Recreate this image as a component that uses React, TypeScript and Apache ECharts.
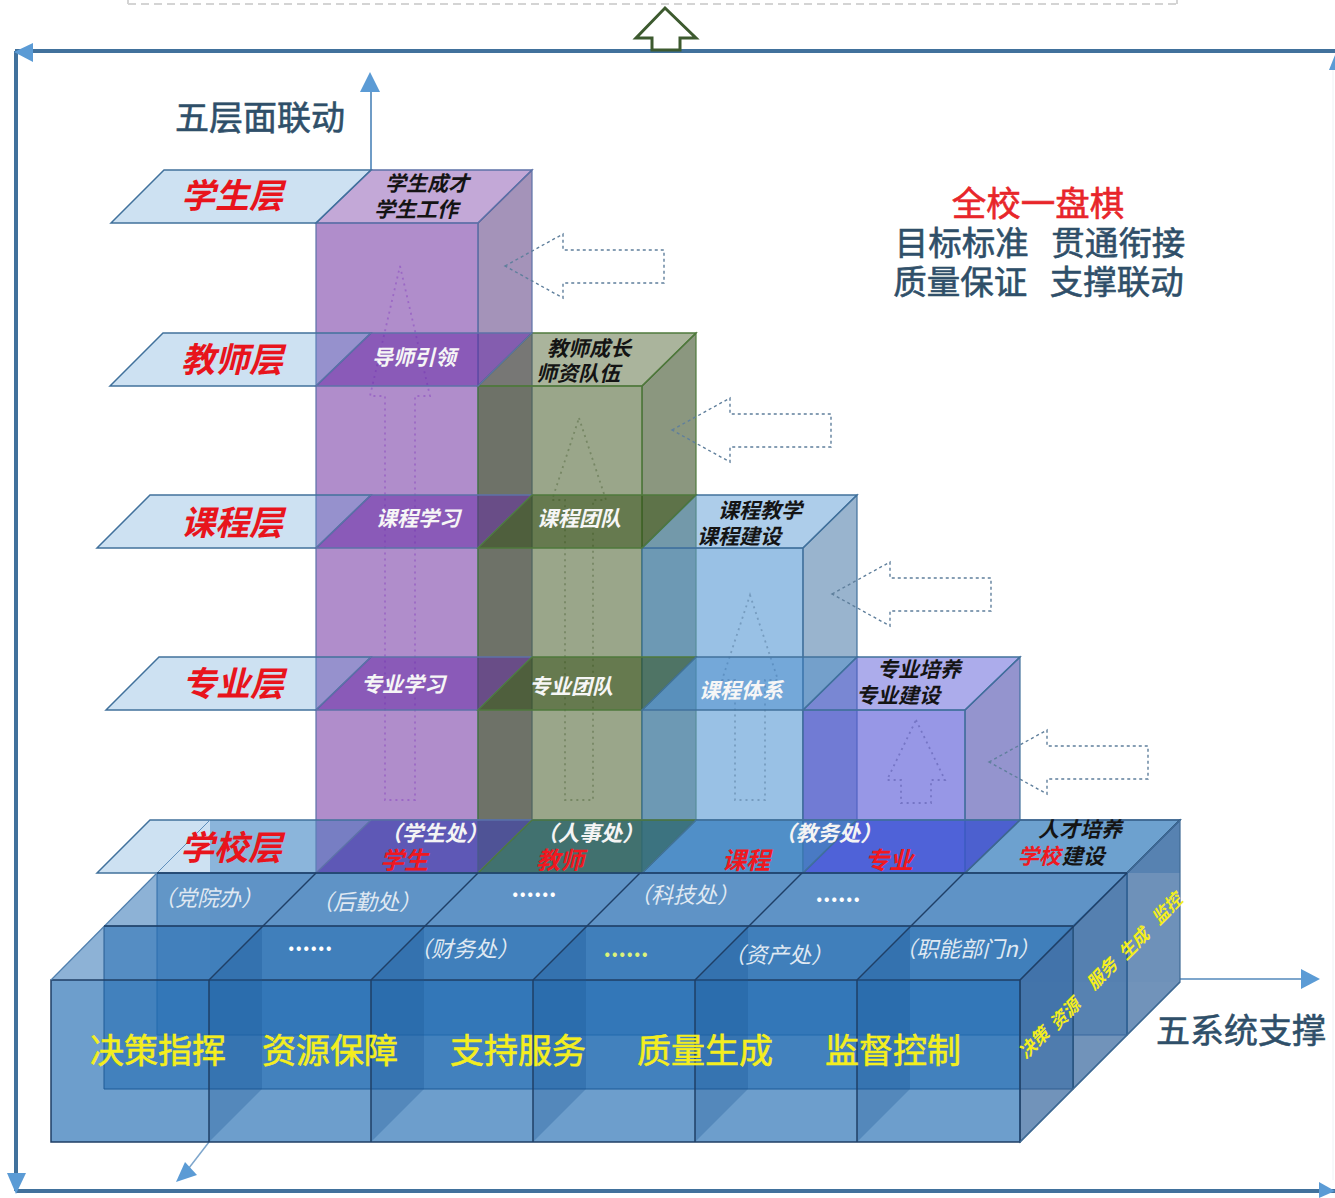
import React, { useEffect, useRef } from "react";
import * as echarts from "echarts";

// ---- content ----
const layerNames = ["学生层", "教师层", "课程层", "专业层", "学校层"];
const axisTitleY = "五层面联动";
const axisTitleX = "五系统支撑";
const sloganHead = "全校一盘棋";
const sloganLines = ["目标标准   贯通衔接", "质量保证   支撑联动"];
const boxTopLines = [
  ["学生成才", "学生工作"],
  ["教师成长", "师资队伍"],
  ["课程教学", "课程建设"],
  ["专业培养", "专业建设"],
];
const crossLabels = ["导师引领", "课程学习", "专业学习", "课程团队", "专业团队", "课程体系"];
const officeTop = ["（学生处）", "（人事处）", "（教务处）"];
const schoolRed = ["学生", "教师", "课程", "专业"];
const schoolTop = "人才培养";
const schoolBuild = ["学校", "建设"];
const deptLabels = ["（党院办）", "（后勤处）", "......", "（科技处）", "......", "......", "（财务处）", "......", "（资产处）", "（职能部门n）"];
const systems = ["决策指挥", "资源保障", "支持服务", "质量生成", "监督控制"];
const sideSystems = ["决策", "资源", "服务", "生成", "监控"];

// ---- layout ----
const FONT = '"Noto Sans CJK SC"';
const colX = [316, 478, 642, 803, 965];
const rearX = [371, 532, 696, 857, 1020];
const rearY = [170, 333, 495, 657, 820];
const frontY = [223, 386, 548, 710, 873];
const plateLeft = [111, 110, 97, 106, 97];
const slotX = [51, 209, 371, 533, 695, 857, 1020];

type P = [number, number];
const poly = (points: P[], fill: string, stroke = "none", lineWidth = 1, lineDash?: number[]) => ({
  type: "polygon",
  silent: true,
  shape: { points },
  style: { fill, stroke, lineWidth, lineDash },
});
const seg = (a: P, b: P, stroke: string, lineWidth = 1.5, lineDash?: number[]) => ({
  type: "line",
  silent: true,
  shape: { x1: a[0], y1: a[1], x2: b[0], y2: b[1] },
  style: { stroke, lineWidth, lineDash },
});
const txt = (
  text: string,
  x: number,
  y: number,
  size: number,
  fill: string,
  opt: { italic?: boolean; bold?: boolean; rotation?: number; align?: string; heavy?: boolean } = {}
) => ({
  type: "text",
  silent: true,
  x,
  y: opt.rotation ? y : y - size * 0.08,
  rotation: opt.rotation || 0,
  style: {
    text,
    fill,
    fontFamily: FONT,
    fontSize: size,
    fontStyle: opt.italic ? "italic" : "normal",
    fontWeight: opt.bold ? "bold" : "normal",
    textAlign: opt.align || "center",
    textVerticalAlign: "middle",
    stroke: opt.heavy ? fill : undefined,
    lineWidth: opt.heavy ? 0.6 : 0,
  },
});

const boxStyles = [
  { front: "rgba(112,48,160,0.55)", top: "rgba(112,48,160,0.42)", side: "rgba(90,58,128,0.55)", edge: "#5d72a8", arrow: "rgba(130,60,190,0.45)", cross: "rgba(100,40,165,0.5)" },
  { front: "rgba(62,85,30,0.52)", top: "rgba(62,85,30,0.44)", side: "rgba(55,75,35,0.58)", edge: "#4f7a3c", arrow: "rgba(90,110,70,0.55)", cross: "rgba(45,75,15,0.48)" },
  { front: "rgba(91,155,213,0.62)", top: "rgba(91,155,213,0.5)", side: "rgba(80,125,170,0.58)", edge: "#41719c", arrow: "rgba(90,125,160,0.55)", cross: "rgba(60,130,200,0.4)" },
  { front: "rgba(90,90,216,0.63)", top: "rgba(90,90,216,0.5)", side: "rgba(70,70,170,0.58)", edge: "#41719c", arrow: "rgba(90,90,170,0.55)", cross: "rgba(60,60,210,0.4)" },
];
const schoolOverlay = ["rgba(70,50,170,0.5)", "rgba(35,90,80,0.55)", "rgba(46,117,182,0.45)", "rgba(50,60,215,0.5)", "rgba(46,117,182,0.32)"];

// inner dotted up arrows: tip, shaft half width, wing half width, wing y, centre x, bottom y
const upArrows = [
  { x: 400, tip: 266, wing: 396, half: 15, wingHalf: 30, bottom: 800 },
  { x: 579, tip: 418, wing: 500, half: 14, wingHalf: 27, bottom: 800 },
  { x: 750, tip: 595, wing: 680, half: 15, wingHalf: 28, bottom: 800 },
  { x: 916, tip: 720, wing: 780, half: 15, wingHalf: 29, bottom: 803 },
];
const leftArrowTips: P[] = [[505, 266], [672, 430], [832, 594], [989, 762]];

const cBlue = "#5b9bd5";
const cFrame = "#41719c";
const cHead = "#2f4f69";
const cRed = "#e8141c";
const cYellow = "#f4ee1e";
const cLine = "#1f3f66";

function buildElements() {
  const els: any[] = [];

  // top dashed band + frame
  els.push(seg([128, 4], [1177, 4], "#d4d4d4", 2, [8, 5]));
  els.push(seg([128, 0], [128, 4], "#d4d4d4", 2));
  els.push(seg([1177, 0], [1177, 4], "#d4d4d4", 2));
  els.push(seg([15, 51], [1335, 51], cFrame, 4));
  els.push(seg([16, 51], [16, 1191], cFrame, 4));
  els.push(seg([16, 1191], [1335, 1191], cFrame, 4));
  els.push(seg([1333, 60], [1333, 1180], "#eef1f4", 1));
  els.push(poly([[14, 52], [33, 43], [33, 62]], cBlue));
  els.push(poly([[7, 1173], [26, 1173], [16, 1194]], cBlue));
  els.push(poly([[1319, 1182], [1335, 1191], [1319, 1198]], cBlue));
  els.push(poly([[1329, 70], [1335, 55], [1335, 70]], cBlue));
  els.push(
    poly(
      [[665, 8], [696, 38], [680, 38], [680, 50], [652, 50], [652, 38], [636, 38]],
      "#ffffff",
      "#3d5a2f",
      3
    )
  );

  // vertical axis
  els.push(seg([371, 170], [371, 90], "#6f9cc6", 2));
  els.push(poly([[370, 72], [380, 92], [360, 92]], cBlue));
  // horizontal + depth axes
  els.push(seg([1180, 979], [1302, 979], "#7ea6cc", 2));
  els.push(poly([[1320, 979], [1301, 969], [1301, 989]], cBlue));
  els.push(seg([209, 1142], [182, 1177], "#7ea6cc", 1.5));
  els.push(poly([[176, 1182], [185, 1162], [197, 1175]], cBlue));

  // faint rear slab
  els.push(poly([[210, 820], [1180, 820], [1180, 873], [210, 873]], "rgba(31,106,176,0.42)"));
  els.push(poly([[210, 873], [1180, 873], [1180, 982], [210, 982]], "rgba(31,106,176,0.06)"));

  // columns
  boxStyles.forEach((s, i) => {
    const x0 = colX[i];
    const x1 = colX[i + 1];
    const rx0 = rearX[i];
    const rx1 = rearX[i + 1];
    const ry = rearY[i];
    const fy = frontY[i];
    const by = frontY[4];
    const byR = rearY[4];
    els.push(poly([[x0, fy], [x1, fy], [x1, by], [x0, by]], s.front, s.edge, 1.2));
    els.push(poly([[x0, fy], [rx0, ry], [rx1, ry], [x1, fy]], s.top, s.edge, 1.5));
    els.push(poly([[x1, fy], [rx1, ry], [rx1, byR], [x1, by]], s.side, s.edge, 1.2));
    const a = upArrows[i];
    els.push(
      poly(
        [
          [a.x, a.tip],
          [a.x + a.wingHalf, a.wing],
          [a.x + a.half, a.wing],
          [a.x + a.half, a.bottom],
          [a.x - a.half, a.bottom],
          [a.x - a.half, a.wing],
          [a.x - a.wingHalf, a.wing],
        ],
        "none",
        s.arrow,
        1.8,
        [2, 4]
      )
    );
  });

  // dotted left arrows
  leftArrowTips.forEach(([x, y]) => {
    els.push(
      poly(
        [
          [x, y],
          [x + 58, y - 32],
          [x + 58, y - 16],
          [x + 159, y - 16],
          [x + 159, y + 17],
          [x + 58, y + 17],
          [x + 58, y + 32],
        ],
        "none",
        "#5f7f9c",
        1.4,
        [3, 3]
      )
    );
  });

  // layer plates
  rearY.forEach((ry, i) => {
    const fy = frontY[i];
    const pl = plateLeft[i];
    if (i === 4) {
      els.push(poly([[pl, fy], [pl + 53, ry], [1180, ry], [1127, fy]], "rgba(91,155,213,0.3)", cFrame, 1.5));
    } else {
      els.push(poly([[pl, fy], [pl + 53, ry], [371, ry], [316, fy]], "rgba(91,155,213,0.3)", cFrame, 1.5));
    }
    // crossings of the plate with the columns below it
    for (let c = 0; c < 4; c++) {
      if (frontY[c] < fy) {
        els.push(
          poly(
            [[colX[c], fy], [rearX[c], ry], [rearX[c + 1], ry], [colX[c + 1], fy]],
            i === 4 ? schoolOverlay[c] : boxStyles[c].cross,
            boxStyles[c].edge,
            1.4
          )
        );
      }
    }
    if (i === 4) {
      els.push(
        poly([[colX[4], fy], [rearX[4], ry], [1180, ry], [1127, fy]], schoolOverlay[4], "#3f668f", 1.4)
      );
      els.push(seg([157, fy], [210, ry], "#5f8fbc", 1));
    }
  });
  els.push(seg([1127, 873], [1180, 820], cLine, 1.2));

  // base blocks, back to front
  const sideFill = "rgba(58,106,160,0.72)";
  els.push(poly([[1127, 873], [1180, 820], [1180, 982], [1127, 1035]], sideFill, "#3f6a94", 1.2));
  els.push(poly([[157, 873], [1127, 873], [1127, 1035], [157, 1035]], "rgba(31,106,176,0.42)", "#2f6298", 1));
  els.push(poly([[1073, 926], [1127, 873], [1127, 1035], [1073, 1089]], sideFill, "#2f5f90", 1.2));
  els.push(poly([[104, 926], [1073, 926], [1073, 1089], [104, 1089]], "rgba(31,106,176,0.55)", cLine, 1));
  els.push(poly([[1020, 980], [1073, 926], [1073, 1089], [1020, 1142]], sideFill, "#2a5680", 1.2));
  els.push(poly([[51, 980], [157, 873], [1127, 873], [1020, 980]], "rgba(47,114,181,0.55)", "none"));
  els.push(poly([[51, 980], [1020, 980], [1020, 1142], [51, 1142]], "rgba(31,106,176,0.65)", cLine, 1.5));

  // column walls and depth lines
  for (let i = 1; i < slotX.length - 1; i++) {
    const x = slotX[i];
    els.push(poly([[x, 980], [x + 53, 926], [x + 53, 1089], [x, 1142]], "rgba(25,85,150,0.3)"));
    els.push(seg([x, 980], [x, 1142], cLine, 1.5));
    els.push(seg([x, 980], [x + 107, 873], cLine, 1.5));
  }
  els.push(seg([51, 980], [157, 873], "#4f7fae", 1.2));
  els.push(seg([1020, 980], [1127, 873], cLine, 1.5));
  els.push(seg([104, 926], [1073, 926], cLine, 1.5));
  els.push(seg([157, 873], [1127, 873], cLine, 1.5));
  els.push(seg([1020, 1142], [1180, 982], "#3f6a94", 1.4));

  // ---- texts ----
  els.push(txt(axisTitleY, 260, 118, 34, cHead, { heavy: true }));
  els.push(txt(axisTitleX, 1241, 1031, 34, cHead, { heavy: true }));
  els.push(txt(sloganHead, 1038, 204, 34.5, "#e8262a", { heavy: true }));
  els.push(txt(sloganLines[0], 1040, 243, 33.5, cHead, { heavy: true }));
  els.push(txt(sloganLines[1], 1038.5, 282, 33.5, cHead, { heavy: true }));

  const layerPos: P[] = [[232, 196], [232, 360], [232, 523], [233, 684], [231, 848]];
  layerNames.forEach((t, i) =>
    els.push(txt(t, layerPos[i][0], layerPos[i][1], 34, cRed, { italic: true, bold: true }))
  );

  const boxTextPos: P[][] = [
    [[427, 184], [416, 210]],
    [[589, 349], [578, 374]],
    [[760, 511], [739, 537]],
    [[919, 670], [898, 696]],
  ];
  boxTopLines.forEach((lines, i) =>
    lines.forEach((t, j) =>
      els.push(txt(t, boxTextPos[i][j][0], boxTextPos[i][j][1], 21, "#141414", { italic: true, bold: true }))
    )
  );

  const crossPos: P[] = [[414, 358], [418, 519], [403, 685], [579, 519], [571, 687], [741, 691]];
  crossLabels.forEach((t, i) =>
    els.push(txt(t, crossPos[i][0], crossPos[i][1], 21, "#f6f6f6", { italic: true, bold: true }))
  );

  const officePos: P[] = [[434, 833], [590, 833], [828, 833]];
  officeTop.forEach((t, i) =>
    els.push(txt(t, officePos[i][0], officePos[i][1], 21.5, "#f4f4f4", { italic: true, bold: true }))
  );
  const redPos: P[] = [[404, 860], [560, 860], [746, 860], [889, 860]];
  schoolRed.forEach((t, i) =>
    els.push(txt(t, redPos[i][0], redPos[i][1], 24, "#f01820", { italic: true, bold: true }))
  );
  els.push(txt(schoolTop, 1080, 830, 21, "#141414", { italic: true, bold: true }));
  els.push(txt(schoolBuild[0], 1039, 856, 21.5, "#f01820", { italic: true, bold: true }));
  els.push(txt(schoolBuild[1], 1083, 856, 21.5, "#141414", { italic: true, bold: true }));

  const deptPos: P[] = [
    [208, 898], [366, 902], [534, 889], [684, 895], [838, 894],
    [626, 949], [464, 949], [310, 943], [778, 955], [967, 949],
  ];
  const deptOrder = [0, 1, 2, 3, 4, 7, 6, 5, 8, 9];
  deptOrder.forEach((d, i) => {
    const t = deptLabels[d];
    const dots = t === "......";
    const yellowDots = i === 5;
    els.push(
      txt(t, deptPos[i][0], deptPos[i][1], dots ? 23 : 22, yellowDots ? "#dcf27a" : dots ? "#ffffff" : "#dfe8f2", {
        italic: !dots,
        bold: dots,
      })
    );
  });

  const sysX = [158, 330, 518, 705, 893];
  systems.forEach((t, i) => els.push(txt(t, sysX[i], 1051, 34, cYellow, { heavy: true })));

  const sidePos: P[] = [[1033, 1042], [1064, 1013], [1101, 973], [1133, 943], [1166, 908]];
  sideSystems.forEach((t, i) =>
    els.push(
      txt(t, sidePos[i][0], sidePos[i][1], 17.5, cYellow, { italic: true, bold: true, rotation: Math.PI / 4 })
    )
  );

  return els;
}

export default function App() {
  const ref = useRef<HTMLDivElement>(null);
  useEffect(() => {
    if (!ref.current) return;
    const chart = echarts.init(ref.current, undefined, { renderer: "svg" });
    chart.setOption({
      animation: false,
      backgroundColor: "#ffffff",
      graphic: { elements: buildElements() },
    });
    return () => chart.dispose();
  }, []);
  return (
    <div
      ref={ref}
      style={{ position: "absolute", left: 0, top: 0, width: 1335, height: 1198 }}
    />
  );
}
